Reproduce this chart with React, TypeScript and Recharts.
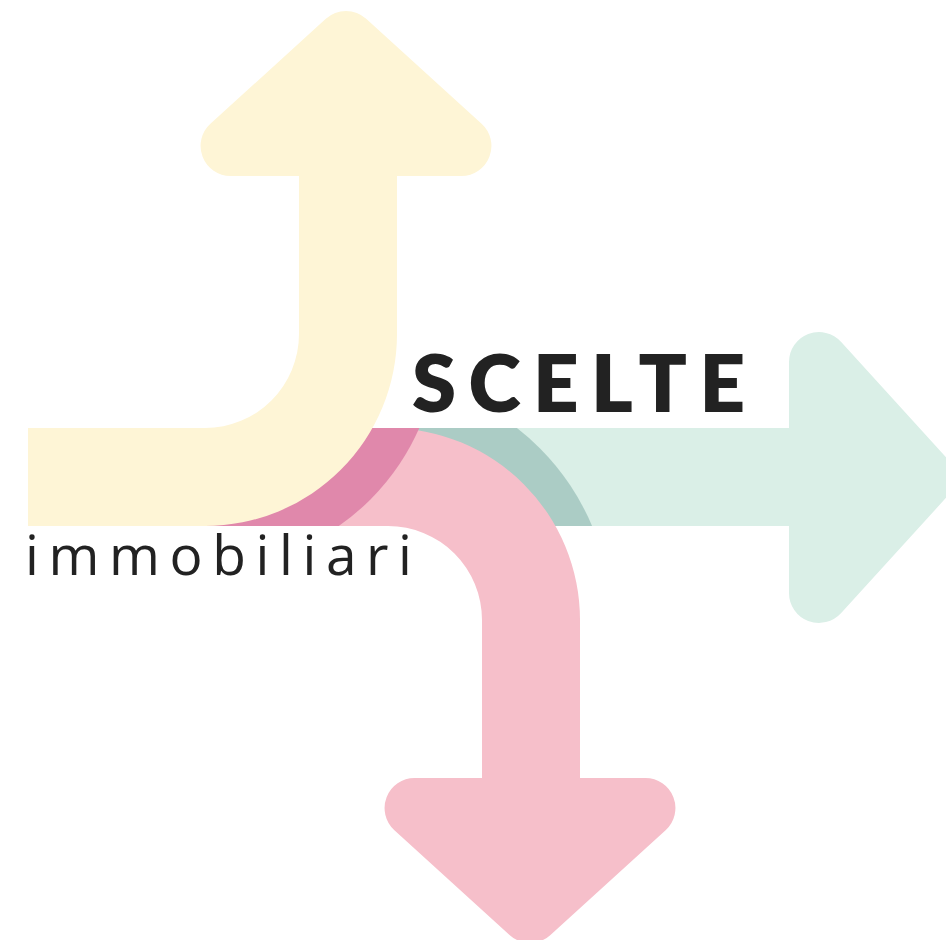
import React from 'react';
import { ComposedChart, XAxis, YAxis, ReferenceArea } from 'recharts';

// Logo drawn in a 946 x 940 data space (y grows downward on a reversed axis)
const DOMAIN_X = [0, 946];
const DOMAIN_Y = [0, 940];

// straight bands: [x1, x2, y1, y2]
const TEAL_BAND = [149, 792, 428, 526];
const PINK_BAND = [127, 390, 428, 526];
const PINK_STEM = [482, 580, 618, 781];
const YELLOW_BAND = [28, 207, 428, 526];
const YELLOW_STEM = [299, 397, 173, 336];

// curved corners: [cx, cy, innerR, outerR, startDeg, endDeg]
const YELLOW_CORNER = [205, 334, 94, 192, 0, 90];
const PINK_CORNER = [388, 620, 94, 192, -90, 0];

// darker overlap discs: [cx, cy, r, clipX1, clipX2, clipY1, clipY2]
const TEAL_OVERLAP = [368, 620, 243, 380, 792, 428, 526];
const PINK_OVERLAP = [205, 334, 234, 127, 430, 428, 526];

// arrow heads: triangle vertices (rounded)
const YELLOW_HEAD = [[153, 176], [539, 176], [346, 0.5]];
const PINK_HEAD = [[337, 778], [723, 778], [530, 953.5]];
const TEAL_HEAD = [[789, 284.5], [789, 670.5], [964.5, 477.5]];
const HEAD_ROUNDING = 30;

// words: [text, x1, x2, baseline]
const WORD_SCELTE = ['SCELTE', 412, 745, 412];
const WORD_IMMOBILIARI = ['immobiliari', 25, 412, 575];

const COLORS = {
  yellow: '#fef5d6',
  pink: '#f6bfca',
  darkPink: '#e088ab',
  teal: '#daefe7',
  darkTeal: '#abccc5',
  ink: '#222222',
};

const FONTS = {
  title: { family: "Lato, 'Open Sans', sans-serif", weight: 800, size: 79.6 },
  subtitle: { family: "'Open Sans', Lato, sans-serif", weight: 400, size: 55 },
};

type Mapper = { x: (v: number) => number; y: (v: number) => number; k: number };

function areaShape(b: number[], draw: (m: Mapper) => React.ReactNode) {
  return (props: any) => {
    const { x, y, width, height } = props;
    const kx = width / (b[1] - b[0]);
    const ky = height / (b[3] - b[2]);
    const m: Mapper = {
      x: (v: number) => x + (v - b[0]) * kx,
      y: (v: number) => y + (v - b[2]) * ky,
      k: kx,
    };
    return <g>{draw(m)}</g>;
  };
}

function area(key: string, b: number[], draw: (m: Mapper) => React.ReactNode) {
  return (
    <ReferenceArea
      key={key}
      x1={b[0]}
      x2={b[1]}
      y1={b[2]}
      y2={b[3]}
      ifOverflow="visible"
      shape={areaShape(b, draw)}
    />
  );
}

function bandPiece(key: string, r: number[], color: string) {
  return area(key, r, (m) => (
    <rect x={m.x(r[0])} y={m.y(r[2])} width={(r[1] - r[0]) * m.k} height={(r[3] - r[2]) * m.k} fill={color} />
  ));
}

function cornerPiece(key: string, c: number[], color: string) {
  const [cx, cy, ri, ro, a0, a1] = c;
  const xs = [a0, a1].map((a) => cx + Math.cos((a * Math.PI) / 180) * ro);
  const ys = [a0, a1].map((a) => cy + Math.sin((a * Math.PI) / 180) * ro);
  const b = [Math.min(cx, ...xs), Math.max(cx, ...xs), Math.min(cy, ...ys), Math.max(cy, ...ys)];
  return area(key, b, (m) => {
    const pt = (r: number, a: number) => {
      const t = (a * Math.PI) / 180;
      return `${m.x(cx + Math.cos(t) * r)} ${m.y(cy + Math.sin(t) * r)}`;
    };
    const d = `M ${pt(ro, a0)} A ${ro * m.k} ${ro * m.k} 0 0 1 ${pt(ro, a1)} L ${pt(ri, a1)} A ${ri * m.k} ${ri * m.k} 0 0 0 ${pt(ri, a0)} Z`;
    return <path d={d} fill={color} />;
  });
}

function overlapPiece(key: string, o: number[], color: string) {
  const [cx, cy, r, x1, x2, y1, y2] = o;
  const b = [x1, x2, y1, y2];
  const id = `clip-${key}`;
  return area(key, b, (m) => (
    <g>
      <defs>
        <clipPath id={id}>
          <rect x={m.x(x1)} y={m.y(y1)} width={(x2 - x1) * m.k} height={(y2 - y1) * m.k} />
        </clipPath>
      </defs>
      <circle cx={m.x(cx)} cy={m.y(cy)} r={r * m.k} fill={color} clipPath={`url(#${id})`} />
    </g>
  ));
}

function headPiece(key: string, pts: number[][], rad: number, color: string) {
  const xs = pts.map((p) => p[0]);
  const ys = pts.map((p) => p[1]);
  const b = [Math.min(...xs), Math.max(...xs), Math.min(...ys), Math.max(...ys)];
  return area(key, b, (m) => {
    const P = pts.map((p) => [m.x(p[0]), m.y(p[1])]);
    const r = rad * m.k;
    let d = '';
    P.forEach((p1, i) => {
      const p0 = P[(i + P.length - 1) % P.length];
      const p2 = P[(i + 1) % P.length];
      const v1 = [p0[0] - p1[0], p0[1] - p1[1]];
      const v2 = [p2[0] - p1[0], p2[1] - p1[1]];
      const l1 = Math.hypot(v1[0], v1[1]);
      const l2 = Math.hypot(v2[0], v2[1]);
      const u1 = [v1[0] / l1, v1[1] / l1];
      const u2 = [v2[0] / l2, v2[1] / l2];
      const ang = Math.acos(u1[0] * u2[0] + u1[1] * u2[1]);
      const dist = r / Math.tan(ang / 2);
      const t1 = [p1[0] + u1[0] * dist, p1[1] + u1[1] * dist];
      const t2 = [p1[0] + u2[0] * dist, p1[1] + u2[1] * dist];
      const a = [p1[0] - p0[0], p1[1] - p0[1]];
      const bb = [p2[0] - p1[0], p2[1] - p1[1]];
      const sweep = a[0] * bb[1] - a[1] * bb[0] > 0 ? 1 : 0;
      d += `${i === 0 ? 'M' : 'L'} ${t1[0]} ${t1[1]} A ${r} ${r} 0 0 ${sweep} ${t2[0]} ${t2[1]} `;
    });
    return <path d={d + 'Z'} fill={color} />;
  });
}

function wordPiece(key: string, w: any[], font: { family: string; weight: number; size: number }, color: string) {
  const [text, x1, x2, base] = w;
  const b = [x1, x2, base - 60, base];
  return area(key, b, (m) => (
    <text
      x={m.x(x1)}
      y={m.y(base)}
      textLength={(x2 - x1) * m.k}
      lengthAdjust="spacing"
      fontFamily={font.family}
      fontWeight={font.weight}
      fontSize={font.size * m.k}
      fill={color}
    >
      {text}
    </text>
  ));
}

export default function App() {
  return (
    <div style={{ position: 'absolute', left: 0, top: 0, width: 946, height: 940, background: '#ffffff' }}>
      <ComposedChart width={946} height={940} margin={{ top: 0, right: 0, bottom: 0, left: 0 }} data={[]}>
        <XAxis type="number" dataKey="x" domain={DOMAIN_X} hide allowDataOverflow />
        <YAxis type="number" dataKey="y" domain={DOMAIN_Y} reversed hide allowDataOverflow />
        {bandPiece('tealBand', TEAL_BAND, COLORS.teal)}
        {headPiece('tealHead', TEAL_HEAD, HEAD_ROUNDING, COLORS.teal)}
        {overlapPiece('tealOverlap', TEAL_OVERLAP, COLORS.darkTeal)}
        {bandPiece('pinkBand', PINK_BAND, COLORS.pink)}
        {cornerPiece('pinkCorner', PINK_CORNER, COLORS.pink)}
        {bandPiece('pinkStem', PINK_STEM, COLORS.pink)}
        {headPiece('pinkHead', PINK_HEAD, HEAD_ROUNDING, COLORS.pink)}
        {overlapPiece('pinkOverlap', PINK_OVERLAP, COLORS.darkPink)}
        {bandPiece('yellowBand', YELLOW_BAND, COLORS.yellow)}
        {cornerPiece('yellowCorner', YELLOW_CORNER, COLORS.yellow)}
        {bandPiece('yellowStem', YELLOW_STEM, COLORS.yellow)}
        {headPiece('yellowHead', YELLOW_HEAD, HEAD_ROUNDING, COLORS.yellow)}
        {wordPiece('scelte', WORD_SCELTE, FONTS.title, COLORS.ink)}
        {wordPiece('immobiliari', WORD_IMMOBILIARI, FONTS.subtitle, COLORS.ink)}
      </ComposedChart>
    </div>
  );
}
